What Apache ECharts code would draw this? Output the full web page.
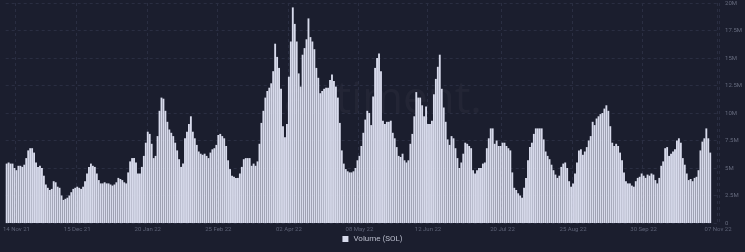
<!DOCTYPE html>
<html><head><meta charset="utf-8">
<script src="https://cdn.jsdelivr.net/npm/echarts@6/dist/echarts.min.js"></script>
<style>html,body{margin:0;padding:0;background:#1b1e2e;}#c{width:745px;height:252px;}</style>
</head><body><div id="c"></div>
<script>
// Volume (SOL), millions, one bar per day
const volume = [
5.4,5.5,5.4,5.4,5.0,4.8,5.2,5.2,5.1,5.3,
5.9,6.6,6.8,6.8,6.4,5.5,5.1,5.2,5.0,4.3,
3.5,3.2,3.0,3.1,3.8,3.7,3.3,3.2,2.5,2.1,
2.2,2.3,2.5,2.8,3.1,3.2,3.3,3.2,3.1,3.3,
3.8,4.5,5.1,5.4,5.2,5.1,4.5,3.9,3.6,3.6,
3.7,3.6,3.6,3.5,3.4,3.5,3.7,4.1,4.0,3.9,
3.7,3.6,4.6,5.6,5.9,5.9,5.5,4.5,4.5,5.1,
6.1,7.3,8.3,8.1,7.2,5.9,6.1,7.9,10.2,11.4,
11.3,10.2,9.2,8.5,8.2,7.9,7.3,6.6,5.8,5.1,
5.4,7.7,8.3,9.0,9.7,8.3,7.7,7.1,6.5,6.3,
6.2,6.3,6.1,5.9,6.4,6.7,6.8,7.1,8.0,8.1,
7.9,7.7,7.0,5.7,4.9,4.3,4.2,4.1,4.1,4.5,
5.1,5.8,5.9,5.9,5.9,5.2,5.4,5.2,5.6,7.2,
9.1,10.2,11.4,12.0,12.3,12.7,13.8,16.3,15.1,14.1,
12.2,8.8,7.8,9.0,13.3,16.5,19.6,18.1,16.5,13.6,
12.4,15.3,15.9,16.7,18.6,16.9,16.5,15.8,14.1,13.2,
11.8,12.0,12.2,12.3,12.3,13.0,13.5,12.9,12.4,11.4,
9.1,6.6,5.4,4.9,4.7,4.6,4.6,4.7,5.0,5.7,
6.1,7.0,8.2,9.4,10.2,10.0,8.9,11.5,14.1,15.0,
15.4,13.8,9.3,9.0,9.2,9.2,9.3,8.2,7.7,6.9,
6.1,6.0,6.3,5.7,5.5,5.7,7.2,8.1,9.7,11.9,
11.4,11.4,10.7,9.7,10.6,9.0,9.0,9.3,11.7,13.1,
14.2,15.3,12.2,10.5,9.2,7.6,7.1,7.9,7.7,6.8,
5.9,5.0,5.5,6.3,7.3,7.2,7.0,6.8,4.8,4.5,
4.8,5.0,5.0,5.4,5.5,6.8,7.7,8.6,8.6,7.2,
7.5,7.0,7.0,7.3,7.3,7.0,6.8,6.6,4.6,3.2,
3.0,2.7,2.5,2.3,3.2,4.1,5.7,6.9,7.3,8.1,
8.6,8.6,8.6,8.6,7.6,6.5,6.1,5.8,5.3,4.8,
4.4,4.1,4.3,5.1,5.4,5.5,5.0,3.8,3.3,3.6,
4.5,5.5,6.6,6.7,6.2,6.5,6.9,7.5,7.9,9.2,
8.9,9.5,9.7,9.9,10.0,10.4,10.7,10.2,8.8,7.3,
7.0,7.2,7.0,6.4,5.7,4.6,3.8,3.6,3.6,3.4,
3.3,3.8,4.1,4.2,4.5,4.3,4.1,4.4,4.3,4.5,
4.4,3.9,3.6,4.1,5.2,5.6,6.8,6.9,6.1,6.3,
6.5,6.7,7.5,7.7,7.3,5.9,5.3,4.5,3.9,4.0,
3.8,4.1,4.2,4.8,6.6,7.4,7.7,8.6,7.7,6.4
];
const dayCount = 364;            // days on the time axis (axis extends a little past the data)
const xTickIndex = [5,36,72,108,144,180,215,253,289,325,363];
const xTickLabels = ["14 Nov 21","15 Dec 21","20 Jan 22","25 Feb 22","02 Apr 22","08 May 22","12 Jun 22","20 Jul 22","25 Aug 22","30 Sep 22","07 Nov 22"];
const yTickValues = [0,2.5,5,7.5,10,12.5,15,17.5,20];
const yTickLabels = ["0","2.5M","5M","7.5M","10M","12.5M","15M","17.5M","20M"];
const seriesName = "Volume (SOL)";
const lastLabel = "6.4M";

const cats = [];
for (let i = 0; i < dayCount; i++) cats.push(String(i));
const tickMap = {};
xTickIndex.forEach((k, j) => { tickMap[k] = xTickLabels[j]; });

const chart = echarts.init(document.getElementById('c'), null, {renderer: 'canvas'});
chart.setOption({
  backgroundColor: '#1b1e2e',
  animation: false,
  grid: {left: 0, right: 22, top: 1, bottom: 29, containLabel: false},
  graphic: [{
    type: 'text', left: 'center', top: 78, silent: true, z: 0,
    style: {text: 'santiment.', fill: 'rgba(255,255,255,0.035)', font: '500 44px "Open Sans", sans-serif'}
  }],
  legend: {
    bottom: 4, left: 'center', itemWidth: 6, itemHeight: 6, icon: 'rect', itemGap: 6,
    textStyle: {color: '#b9bccb', fontSize: 8, fontFamily: 'Roboto, sans-serif'},
    data: [seriesName]
  },
  xAxis: {
    type: 'category', data: cats, boundaryGap: true,
    axisLine: {show: false}, axisTick: {show: false},
    axisLabel: {
      color: '#5c6175', fontSize: 6, fontFamily: 'Roboto, sans-serif', margin: 3,
      interval: (idx) => tickMap[idx] !== undefined,
      formatter: (v, idx) => tickMap[idx] || ''
    },
    splitLine: {show: true, interval: (idx) => tickMap[idx] !== undefined,
      lineStyle: {color: '#2a2e42', type: [3, 3], width: 1}}
  },
  yAxis: {
    type: 'value', position: 'right', min: 0, max: 20, interval: 2.5,
    axisLine: {show: false}, axisTick: {show: false},
    axisLabel: {
      color: '#666b7e', fontSize: 6, fontFamily: 'Roboto, sans-serif', margin: 6,
      formatter: (v) => { const k = yTickValues.indexOf(v); return k >= 0 ? yTickLabels[k] : ''; }
    },
    splitLine: {lineStyle: {color: '#2a2e42', type: [3, 3], width: 1}}
  },
  series: [{
    name: seriesName, type: 'bar', data: volume,
    barWidth: '95%',
    itemStyle: {color: '#d8dbec'},
    markLine: {
      symbol: 'none', silent: true,
      lineStyle: {opacity: 0},
      label: {
        position: 'end', distance: 4, formatter: lastLabel,
        color: '#1b1e2e', backgroundColor: '#dfe2ee', fontSize: 6,
        padding: [2, 2], fontFamily: 'Roboto, sans-serif'
      },
      data: [{yAxis: volume[volume.length - 1]}]
    }
  }]
});
</script></body></html>
